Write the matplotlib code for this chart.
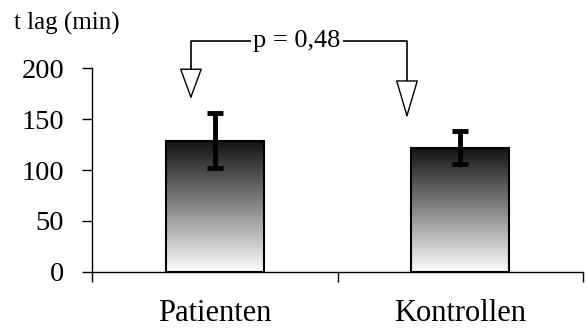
import numpy as np
import matplotlib.pyplot as plt

# Daten
gruppen = ['Patienten', 'Kontrollen']
t_lag = [129, 122]
fehler = [27, 16]
y_ticks = [0, 50, 100, 150, 200]
p_text = 'p = 0,48'

plt.rcParams['font.family'] = ['Liberation Serif', 'DejaVu Serif']

fig = plt.figure(figsize=(5.87, 3.31), dpi=100)
ax = fig.add_axes([92 / 587, 59.3 / 331, 491 / 587, 203.4 / 331])

x = np.arange(len(gruppen))
bars = ax.bar(x, t_lag, width=0.40, color='none', edgecolor='black', linewidth=1.5, zorder=3)

# Verlauf schwarz -> weiss in jedem Balken
grad = np.linspace(0.07, 0.99, 256).reshape(-1, 1)
for b in bars:
    x0, y0 = b.get_x(), b.get_y()
    w, h = b.get_width(), b.get_height()
    im = ax.imshow(grad, cmap='gray', vmin=0, vmax=1, aspect='auto',
                   extent=[x0, x0 + w, y0, y0 + h], origin='upper', zorder=2)
    im.set_clip_path(b)

ax.errorbar(x, t_lag, yerr=fehler, fmt='none', ecolor='black',
            elinewidth=3.5, capsize=6, capthick=3.5, zorder=4)

ax.set_xlim(-0.5, 1.5)
ax.set_ylim(0, 200)
ax.set_yticks(y_ticks)
ax.tick_params(axis='y', direction='out', length=7, width=1, labelsize=20.5, pad=13)

ax.set_xticks([-0.5, 0.5, 1.5])
ax.set_xticklabels([])
ax.set_xticks(x, minor=True)
ax.set_xticklabels(gruppen, minor=True)
ax.tick_params(axis='x', which='major', direction='out', length=7, width=1)
ax.tick_params(axis='x', which='minor', length=0, labelsize=22, pad=20)

for s in ['top', 'right']:
    ax.spines[s].set_visible(False)
ax.spines['left'].set_linewidth(1)
ax.spines['bottom'].set_linewidth(1)

fig.text(14 / 587, 1 - 23 / 331, 't lag (min)', fontsize=18, va='center', ha='left')

# Klammer mit Pfeilen
yb = 226.8
xl, xr = -0.097, 0.783
ax.plot([xl, xl, xr, xr], [189.5, yb, yb, 176.7], color='black', lw=1.2, clip_on=False)
ax.annotate('', xy=(xl, 169.8), xytext=(xl, 190), annotation_clip=False,
            arrowprops=dict(arrowstyle='-|>,head_length=1.0,head_width=0.37',
                            fc='white', ec='black', lw=1.0, mutation_scale=20,
                            shrinkA=0, shrinkB=0))
ax.annotate('', xy=(xr, 151), xytext=(xr, 177), annotation_clip=False,
            arrowprops=dict(arrowstyle='-|>,head_length=1.25,head_width=0.37',
                            fc='white', ec='black', lw=1.0, mutation_scale=20,
                            shrinkA=0, shrinkB=0))
ax.text(0.335, yb, p_text, fontsize=19, ha='center', va='center',
        bbox=dict(fc='white', ec='none', pad=1.5))

fig.savefig('out.png', dpi=100)
